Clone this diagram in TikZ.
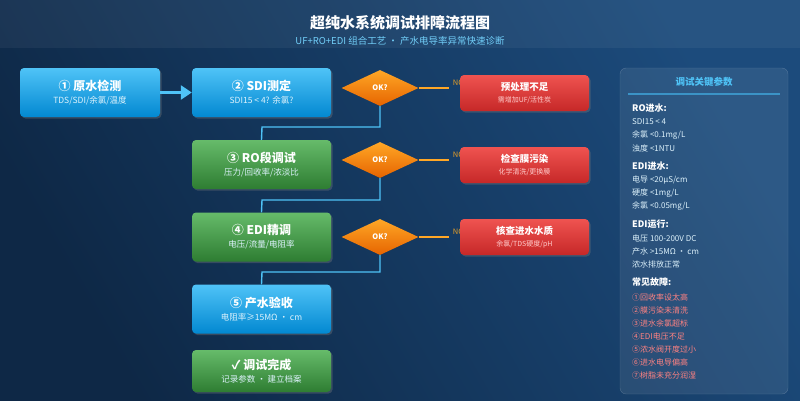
\documentclass[tikz,border=0pt]{standalone}
\usepackage{fontspec}
\setmainfont{Noto Sans CJK SC}
\usetikzlibrary{shapes.geometric,arrows.meta,shadows,calc}
\definecolor{bgA}{HTML}{0E2846}
\definecolor{bgB}{HTML}{1C4B7C}
\definecolor{lb}{HTML}{4FC3F7}
\definecolor{subc}{HTML}{DDF2FC}
\newcommand{\bxt}[1]{{\fontsize{12}{14}\selectfont\bfseries #1}}
\newcommand{\bxs}[1]{{\fontsize{8.5}{10}\selectfont\color{subc}#1}}
\newcommand{\rdt}[1]{{\fontsize{9.5}{11}\selectfont\bfseries #1}}
\newcommand{\rds}[1]{{\fontsize{7}{8.5}\selectfont\color{white!80!red}#1}}
\begin{document}
\begin{tikzpicture}[x=1pt,y=-1pt,
 box/.style={rounded corners=4pt,minimum width=139pt,minimum height=49pt,align=center,text=white,drop shadow={opacity=0.35,shadow xshift=1.5pt,shadow yshift=-1.5pt}},
 bluebox/.style={box,top color=lb,bottom color={rgb,255:red,2;green,136;blue,209}},
 greenbox/.style={box,top color={rgb,255:red,102;green,187;blue,106},bottom color={rgb,255:red,46;green,125;blue,50}},
 redbox/.style={box,minimum width=129pt,minimum height=36pt,top color={rgb,255:red,239;green,83;blue,80},bottom color={rgb,255:red,198;green,40;blue,40}},
 dia/.style={diamond,aspect=2.15,minimum width=77pt,minimum height=36pt,inner sep=0pt,top color={rgb,255:red,255;green,167;blue,38},bottom color={rgb,255:red,230;green,100;blue,0},text=white,font=\fontsize{7.5}{8}\selectfont\bfseries},
 conn/.style={draw=lb,line width=1.4pt},
 ptxt/.style={anchor=west,font=\fontsize{8}{9}\selectfont,text=subc,inner sep=0pt},
 phead/.style={anchor=west,font=\fontsize{9}{10}\selectfont\bfseries,text=white,inner sep=0pt},
 pred/.style={anchor=west,font=\fontsize{8}{9}\selectfont,text={rgb,255:red,255;green,130;blue,130},inner sep=0pt}]
\useasboundingbox (0,0) rectangle (800,400);
\shade[left color=bgA,right color=bgB,shading angle=120] (0,0) rectangle (800,400);
\fill[white,opacity=0.05] (0,0) rectangle (800,48);
\node[text=white,font=\fontsize{15}{17}\selectfont\bfseries] (title) at (400,23) {超纯水系统调试排障流程图};
\node[text=lb!80!white,font=\fontsize{9.5}{11}\selectfont] (subt) at (400,41) {UF+RO+EDI 组合工艺 · 产水电导率异常快速诊断};

\node[bluebox,minimum width=140pt] (b1) at (90,92.5) {\bxt{① 原水检测}\\[1pt]\bxs{TDS/SDI/余氯/温度}};
\node[bluebox] (b2) at (261.5,92.5) {\bxt{② SDI测定}\\[1pt]\bxs{SDI15 < 4? 余氯?}};
\node[greenbox] (b3) at (261.5,164.5) {\bxt{③ RO段调试}\\[1pt]\bxs{压力/回收率/浓淡比}};
\node[greenbox] (b4) at (261.5,237) {\bxt{④ EDI精调}\\[1pt]\bxs{电压/流量/电阻率}};
\node[bluebox] (b5) at (261.5,309) {\bxt{⑤ 产水验收}\\[1pt]\bxs{电阻率≥15MΩ · cm}};
\node[greenbox,minimum height=42pt] (b6) at (261.5,371) {\bxt{✓ 调试完成}\\[1pt]\bxs{记录参数 · 建立档案}};

\draw[lb,line width=2.5pt,-{Triangle[length=11pt,width=14pt]}] (b1.east) -- (b2.west);

\node[dia] (d1) at (380,88) {OK?};
\node[dia] (d2) at (380,160) {OK?};
\node[dia] (d3) at (380,237) {OK?};

\foreach \d in {d1,d2,d3}{
 \coordinate (\d e) at ($(\d.east)+(30,0)$);
 \draw[draw={rgb,255:red,255;green,167;blue,38},line width=1.4pt] (\d.east) -- (\d e);
 \node[anchor=west,text={rgb,255:red,230;green,160;blue,40},font=\fontsize{7.5}{8}\selectfont,inner sep=0pt] (\d no) at ($(\d e)+(4,-5)$) {NO};
}
\node[redbox] (r1) at (524.5,93) {\rdt{预处理不足}\\\rds{需增加UF/活性炭}};
\node[redbox] (r2) at (524.5,165) {\rdt{检查膜污染}\\\rds{化学清洗/更换膜}};
\node[redbox] (r3) at (524.5,237) {\rdt{核查进水水质}\\\rds{余氯/TDS硬度/pH}};

\draw[conn] (d1.south) |- (262,127) -- (b3.north);
\draw[conn] (d2.south) |- (262,200) -- (b4.north);
\draw[conn] (d3.south) |- (262,272) -- (b5.north);

% panel
\draw[rounded corners=6pt,fill=white,fill opacity=0.08,draw=white,draw opacity=0.2] (620,68) rectangle (788,394);
\node[text=lb,font=\fontsize{9.5}{11}\selectfont\bfseries] (pt) at (704,82) {调试关键参数};
\draw[lb!60!bgB,line width=1.5pt] (628,94) -- (780,94);
\node[phead] (h1) at (632,108) {RO进水:};
\node[ptxt] at (632,122) {SDI15 < 4};
\node[ptxt] at (632,135) {余氯 <0.1mg/L};
\node[ptxt] at (632,148) {浊度 <1NTU};
\node[phead] (h2) at (632,166) {EDI进水:};
\node[ptxt] at (632,180) {电导 <20μS/cm};
\node[ptxt] at (632,193) {硬度 <1mg/L};
\node[ptxt] at (632,206) {余氯 <0.05mg/L};
\node[phead] (h3) at (632,224) {EDI运行:};
\node[ptxt] at (632,238) {电压 100-200V DC};
\node[ptxt] at (632,251) {产水 >15MΩ · cm};
\node[ptxt] at (632,264) {浓水排放正常};
\node[phead] (h4) at (632,282) {常见故障:};
\node[pred] at (632,297) {①回收率设太高};
\node[pred] at (632,310) {②膜污染未清洗};
\node[pred] at (632,323) {③进水余氯超标};
\node[pred] at (632,336) {④EDI电压不足};
\node[pred] at (632,349) {⑤浓水阀开度过小};
\node[pred] at (632,362) {⑥进水电导偏高};
\node[pred] at (632,375) {⑦树脂未充分润湿};
\end{tikzpicture}
\end{document}
